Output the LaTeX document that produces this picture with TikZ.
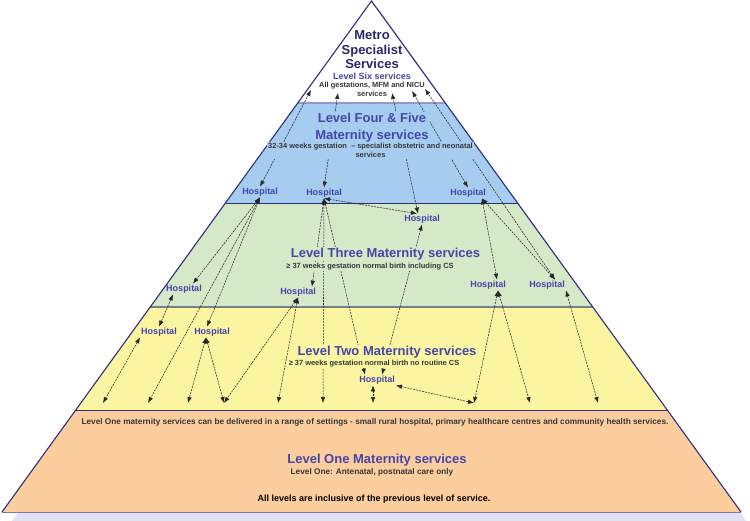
\documentclass[tikz,border=0pt]{standalone}
\usepackage{fontspec}
\setmainfont{Liberation Sans}
\usetikzlibrary{arrows.meta,positioning}

\definecolor{navy}{RGB}{46,46,128}
\definecolor{metronavy}{RGB}{40,40,105}
\definecolor{titleblue}{RGB}{70,70,170}
\definecolor{notegray}{RGB}{55,55,55}
\definecolor{bandblue}{RGB}{166,204,239}
\definecolor{bandgreen}{RGB}{213,232,200}
\definecolor{bandyellow}{RGB}{251,245,162}
\definecolor{bandorange}{RGB}{252,205,157}
\definecolor{shadowlilac}{RGB}{226,226,246}
\definecolor{lilacline}{RGB}{150,150,215}
\definecolor{grayline}{RGB}{125,125,140}

\begin{document}
\begin{tikzpicture}[x = 1pt, y = -1pt, > = {Latex[length=6pt, width=4.5pt]},
	hospital/.style = {font=\bfseries\fontsize{9}{10}\selectfont, text=titleblue, inner sep=1pt},
	level title/.style = {font=\bfseries\fontsize{13}{15}\selectfont, text=titleblue, align=center, inner sep=1pt},
	level note/.style = {font=\bfseries\fontsize{7.45}{9}\selectfont, text=notegray, align=center, inner sep=1pt},
	base note/.style = {level note, font=\bfseries\fontsize{8.25}{10}\selectfont},
	referral/.style = {<->, dash pattern=on 2pt off 1pt, line width=0.55pt, black!85}]

	\useasboundingbox (0, 0) rectangle (750, 521);

	% Pyramid corners and band edges

	\coordinate (apex) at (371.5, 1);
	\coordinate (six-l) at (297.8, 103);
	\coordinate (six-r) at (445.2, 103);
	\coordinate (four-l) at (224.7, 204);
	\coordinate (four-r) at (518.3, 204);
	\coordinate (three-l) at (150.2, 307);
	\coordinate (three-r) at (592.8, 307);
	\coordinate (two-l) at (75.8, 410);
	\coordinate (two-r) at (667.2, 410);
	\coordinate (base-l) at (2, 512);
	\coordinate (base-r) at (741, 512);

	% Shadow and bands

	\fill [shadowlilac] (378.5, 8) -- (749, 525) -- (9, 525) -- cycle;
	\fill [white] (apex) -- (six-r) -- (six-l) -- cycle;
	\fill [bandblue] (six-l) -- (six-r) -- (four-r) -- (four-l) -- cycle;
	\fill [bandgreen] (four-l) -- (four-r) -- (three-r) -- (three-l) -- cycle;
	\fill [bandyellow] (three-l) -- (three-r) -- (two-r) -- (two-l) -- cycle;
	\fill [bandorange] (two-l) -- (two-r) -- (base-r) -- (base-l) -- cycle;
	\draw [lilacline, line width = 1.4pt] (six-l) -- (six-r);
	\draw [navy, line width = 1pt] (four-l) -- (four-r);
	\draw [grayline, line width = 1.4pt] (three-l) -- (three-r);
	\draw [navy, line width = 1pt] (two-l) -- (two-r);
	\draw [lilacline!80!black, line width = 1pt] (base-l) -- (base-r);
	\draw [navy, line width = 1.1pt] (base-l) -- (apex) -- (base-r);

	% Hospitals

	\node [hospital] (hosp-a) at (260, 192) {Hospital};
	\node [hospital] (hosp-b) at (324, 193) {Hospital};
	\node [hospital] (hosp-c) at (468, 193) {Hospital};
	\node [hospital] (hosp-d) at (422, 219) {Hospital};
	\node [hospital] (hosp-e) at (184, 289) {Hospital};
	\node [hospital] (hosp-f) at (298, 292) {Hospital};
	\node [hospital] (hosp-g) at (488, 285) {Hospital};
	\node [hospital] (hosp-h) at (547, 285) {Hospital};
	\node [hospital] (hosp-i) at (159, 332) {Hospital};
	\node [hospital] (hosp-j) at (212, 332) {Hospital};
	\node [hospital] (hosp-k) at (377, 380) {Hospital};

	% Ends at Level Six and at Level One

	\coordinate (six1) at (311, 90);
	\coordinate (six2) at (338, 93);
	\coordinate (six3) at (392, 93);
	\coordinate (six4) at (412, 91);
	\coordinate (six5) at (425, 89);
	\coordinate (one1) at (103, 403);
	\coordinate (one2) at (148, 403);
	\coordinate (one3) at (188, 403);
	\coordinate (one4) at (224, 403);
	\coordinate (one5) at (278, 403);
	\coordinate (one6) at (323, 403);
	\coordinate (one7) at (373, 403);
	\coordinate (one8) at (474, 403);
	\coordinate (one9) at (530, 403);
	\coordinate (one10) at (598, 403);

	% Referrals up to Level Six

	\draw [referral] (hosp-a.north) -- (six1);
	\draw [referral] (hosp-b.north) -- (six2);
	\draw [referral] ([xshift = -4pt] hosp-d.north) -- (six3);
	\draw [referral] (hosp-c.north) -- (six4);
	\draw [referral] ([xshift = 8pt] hosp-h.north) -- (six5);

	% Referrals from Level Four & Five

	\draw [referral] (hosp-b.south) -- ([xshift = -5pt] hosp-d.north);
	\draw [referral] ([xshift = 14pt] hosp-c.south) -- ([xshift = 9pt] hosp-g.north);
	\draw [referral] ([xshift = 14pt] hosp-c.south) -- ([xshift = 8pt] hosp-h.north);
	\draw [referral] (hosp-a.south) -- ([xshift = 9pt] hosp-e.north);
	\draw [referral] (hosp-a.south) -- ([xshift = -5pt] hosp-j.north);
	\draw [referral] (hosp-a.south) -- (one2);
	\draw [referral] (hosp-b.south) -- ([xshift = 14pt] hosp-f.north);
	\draw [referral] (hosp-b.south) -- (one6);
	\draw [referral] (hosp-b.south) -- ([xshift = -12pt] hosp-k.north);
	\draw [referral] (hosp-d.south) -- ([xshift = 5pt] hosp-k.north);

	% Referrals from Level Three

	\draw [referral] ([xshift = -11pt] hosp-e.south) -- (hosp-i.north);
	\draw [referral] (hosp-f.south) -- (one4);
	\draw [referral] (hosp-f.south) -- (one5);
	\draw [referral] ([xshift = 10pt] hosp-g.south) -- (one8);
	\draw [referral] ([xshift = 10pt] hosp-g.south) -- (one9);
	\draw [referral] (hosp-h.south east) -- (one10);

	% Referrals from Level Two

	\draw [referral] (hosp-i.south west) -- (one1);
	\draw [referral] ([xshift = -6pt] hosp-j.south) -- (one3);
	\draw [referral] ([xshift = -6pt] hosp-j.south) -- (one4);
	\draw [referral] ([xshift = -4pt] hosp-k.south) -- (one7);
	\draw [referral] (hosp-k.south east) -- (one8);

	% Level labels

	\node [level title, text = metronavy, font = \bfseries\fontsize{13}{14.5}\selectfont] (metro) at (372, 50) {Metro\\Specialist\\Services};
	\node [level title, font = \bfseries\fontsize{9}{10}\selectfont] (six-title) at (372, 76) {Level Six services};
	\node [level note] (six-note) at (372, 89.5) {All gestations, MFM and NICU\\services};

	\node [level title, fill = bandblue, font = \bfseries\fontsize{13}{17}\selectfont] (four-title) at (372, 127.5) {Level Four \& Five\\Maternity services};
	\node [level note, fill = bandblue] (four-note) at (370.5, 150.5) {32-34 weeks gestation \ -- specialist obstetric and neonatal\\services};

	\node [level title, fill = bandgreen] (three-title) at (385.5, 254) {Level Three Maternity services};
	\node [level note, fill = bandgreen] (three-note) at (370, 266.5) {≥ 37 weeks gestation normal birth including CS};

	\node [level title, fill = bandyellow] (two-title) at (387, 352) {Level Two Maternity services};
	\node [level note, fill = bandyellow] (two-note) at (374, 363.5) {≥ 37 weeks gestation normal birth no routine CS};

	\node [base note] (one-range) at (375, 422) {Level One maternity services can be delivered in a range of settings - small rural hospital, primary healthcare centres and community health services.};
	\node [level title] (one-title) at (377, 460) {Level One Maternity services};
	\node [base note] (one-note) at (372, 472.5) {Level One: Antenatal, postnatal care only};
	\node [level note, text = black, font = \bfseries\fontsize{9}{10}\selectfont] (one-all) at (374, 499) {All levels are inclusive of the previous level of service.};

\end{tikzpicture}
\end{document}
